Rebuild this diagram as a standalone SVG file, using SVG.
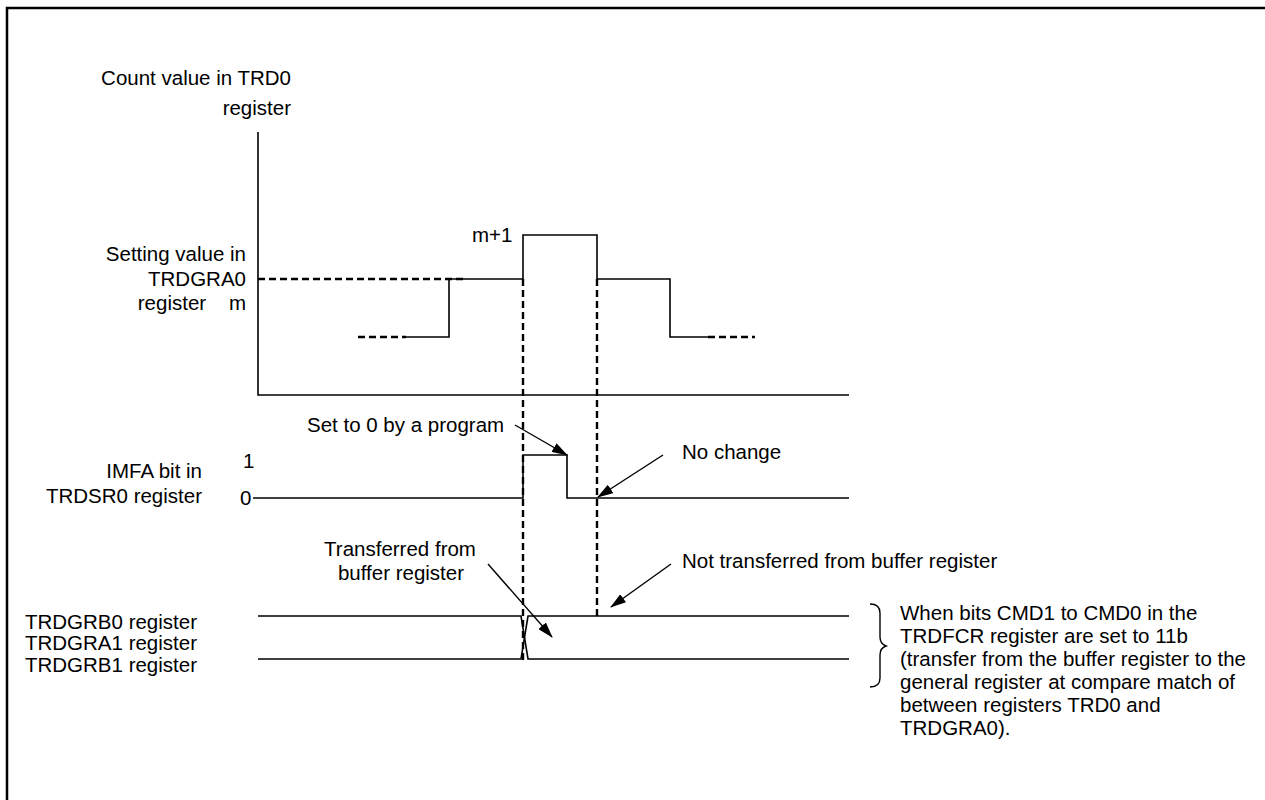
<svg xmlns="http://www.w3.org/2000/svg" width="1265" height="800" viewBox="0 0 1265 800">
<style>
text{font-family:"Liberation Sans",Arial,sans-serif;font-size:20.5px;fill:#000}
.s{fill:none;stroke:#000;stroke-width:1.6}
.d{fill:none;stroke:#000;stroke-width:2.4;stroke-dasharray:7,4}
.a{fill:none;stroke:#000;stroke-width:1.4}
.r{text-anchor:end}
.c{text-anchor:middle}
</style>
<defs>
<marker id="ah" markerWidth="16" markerHeight="10" refX="15" refY="5" orient="auto" markerUnits="userSpaceOnUse">
<path d="M0,0 L16,5 L0,10 z" fill="#000"/>
</marker>
</defs>
<rect x="7" y="8" width="1300" height="900" fill="#fff" stroke="#000" stroke-width="2.5"/>

<g id="axes">
<path class="s" d="M258,132 L258,395 L849,395"/>
</g>

<g id="count-waveform">
<path class="d" d="M258,279 L465,279"/>
<path class="d" d="M358,337 L406,337"/>
<path class="s" d="M406,337 L449,337 L449,279 L523,279 L523,235 L597,235 L597,279 L670,279 L670,337 L708,337"/>
<path class="d" d="M708,337 L755,337"/>
</g>

<g id="imfa-waveform">
<path class="s" d="M253,498 L523,498 L523,455 L567,455 L567,498 L849,498"/>
</g>

<g id="buffer-waveform">
<path class="s" d="M258,616 L521,616 L528,659 L849,659"/>
<path class="s" d="M258,659 L521,659 L528,616 L849,616"/>
</g>

<g id="guides">
<path class="d" d="M523,279 L523,660"/>
<path class="d" d="M597,279 L597,618"/>
</g>

<g id="brace">
<path class="a" d="M870,604 Q880,604 880,613 L880,637 Q880,644 886,646 Q880,648 880,655 L880,678 Q880,687 870,687"/>
</g>

<g id="connectors">
<line class="a" x1="515" y1="425" x2="567" y2="455" marker-end="url(#ah)"/>
<line class="a" x1="663" y1="455" x2="598" y2="497" marker-end="url(#ah)"/>
<line class="a" x1="488" y1="564" x2="552" y2="637" marker-end="url(#ah)"/>
<line class="a" x1="671" y1="564" x2="611" y2="607" marker-end="url(#ah)"/>
</g>

<g id="labels">
<text class="r" x="291" y="85">Count value in TRD0</text>
<text class="r" x="291" y="115">register</text>
<text class="r" x="246" y="261">Setting value in</text>
<text class="r" x="246" y="286">TRDGRA0</text>
<text class="r" x="246" y="310" xml:space="preserve">register    m</text>
<text x="472" y="242">m+1</text>
<text x="307" y="432">Set to 0 by a program</text>
<text x="243" y="468">1</text>
<text x="240" y="505">0</text>
<text class="r" x="202" y="478">IMFA bit in</text>
<text class="r" x="202" y="503">TRDSR0 register</text>
<text x="682" y="459">No change</text>
<text class="c" x="400" y="556">Transferred from</text>
<text class="c" x="401" y="580">buffer register</text>
<text x="682" y="568">Not transferred from buffer register</text>
<text class="r" x="197" y="629">TRDGRB0 register</text>
<text class="r" x="197" y="650">TRDGRA1 register</text>
<text class="r" x="197" y="672">TRDGRB1 register</text>
<text x="900" y="620">When bits CMD1 to CMD0 in the</text>
<text x="900" y="643">TRDFCR register are set to 11b</text>
<text x="900" y="666">(transfer from the buffer register to the</text>
<text x="900" y="689">general register at compare match of</text>
<text x="900" y="712">between registers TRD0 and</text>
<text x="900" y="735">TRDGRA0).</text>
</g>
</svg>
